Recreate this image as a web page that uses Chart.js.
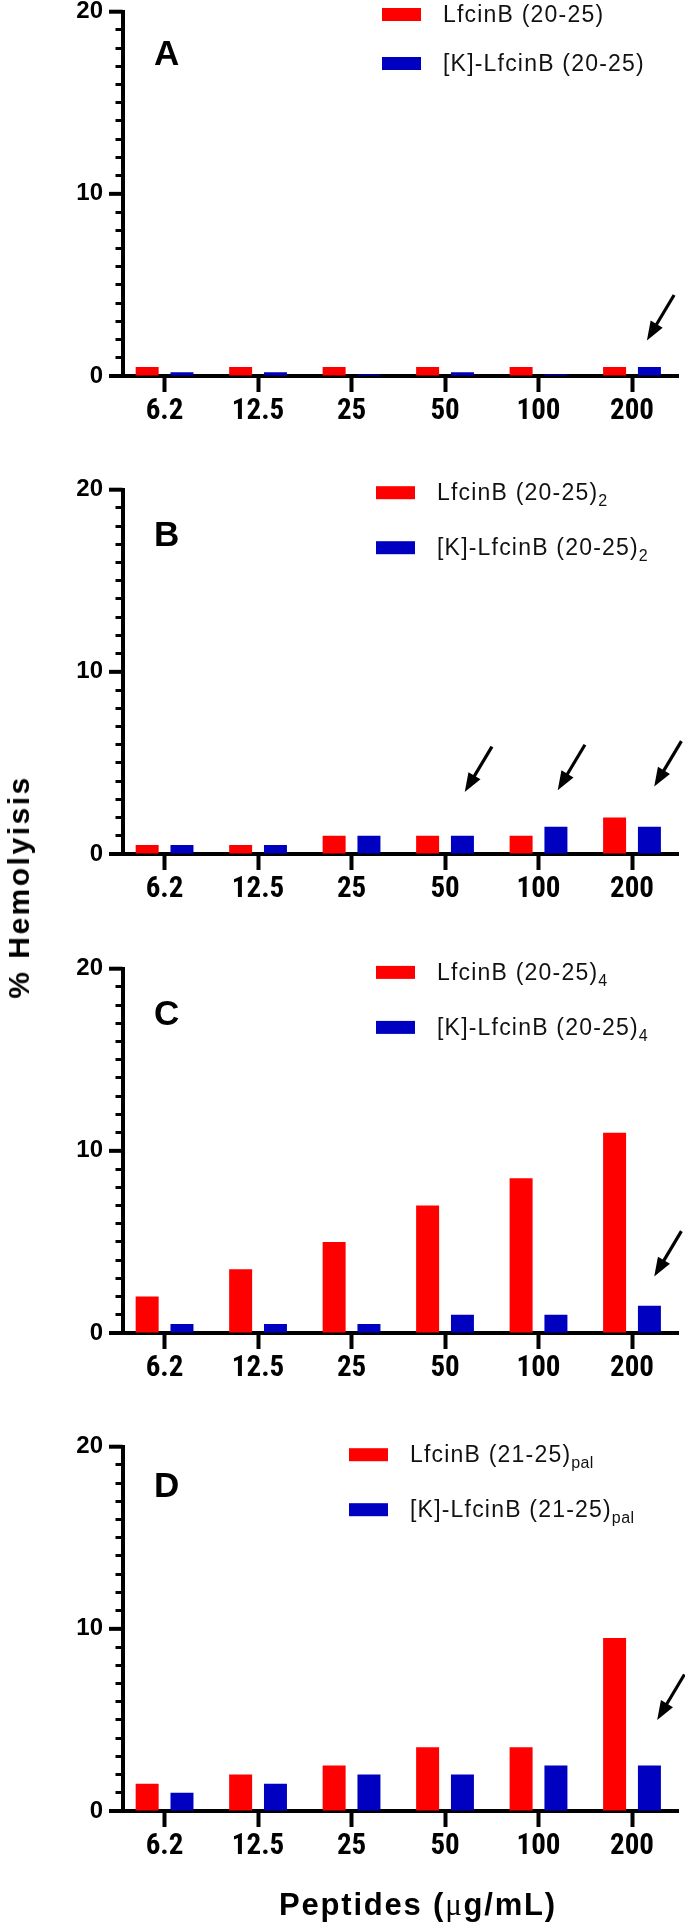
<!DOCTYPE html>
<html>
<head>
<meta charset="utf-8">
<script src="https://cdn.jsdelivr.net/npm/chart.js@4.4.1/dist/chart.umd.min.js"></script>
<style>
  html,body{margin:0;padding:0;background:#fff;}
  #fig{position:relative;width:685px;height:1929px;overflow:hidden;font-family:'Liberation Sans',Arial,sans-serif;color:#000;}
  #fig canvas{position:absolute;left:0;}
  .ytitle{position:absolute;left:19px;top:887px;transform:translate(-50%,-50%) rotate(-90deg);font-weight:bold;font-size:30px;letter-spacing:2.5px;white-space:nowrap;}
  .xtitle{position:absolute;left:418px;top:1905px;transform:translate(-50%,-50%);font-weight:bold;font-size:31px;letter-spacing:1.8px;white-space:nowrap;}
  .mu{font-family:'Liberation Serif',serif;font-weight:normal;}
</style>
</head>
<body>
<div id="fig">
  <canvas id="cA" width="685" height="478" style="top:0px"></canvas>
  <canvas id="cB" width="685" height="478" style="top:478px"></canvas>
  <canvas id="cC" width="685" height="478" style="top:957px"></canvas>
  <canvas id="cD" width="685" height="478" style="top:1435px"></canvas>
  <div class="ytitle">% Hemolyisis</div>
  <div class="xtitle">Peptides (<span class="mu">μ</span>g/mL)</div>
</div>
<script>
// doses on the x axis (µg/mL)
const doses = ['6.2', '12.5', '25', '50', '100', '200'];
const yLabelled = [0, 10, 20];
const yMax = 20;

// % hemolysis, red = LfcinB peptide, blue = [K]-LfcinB peptide
const aRed  = [0.5, 0.5, 0.5, 0.5, 0.5, 0.5];
const aBlue = [0.2, 0.2, 0.1, 0.2, 0.1, 0.5];
const bRed  = [0.5, 0.5, 1, 1, 1, 2];
const bBlue = [0.5, 0.5, 1, 1, 1.5, 1.5];
const cRed  = [2, 3.5, 5, 7, 8.5, 11];
const cBlue = [0.5, 0.5, 0.5, 1, 1, 1.5];
const dRed  = [1.5, 2, 2.5, 3.5, 3.5, 9.5];
const dBlue = [1, 1.5, 2, 2, 2.5, 2.5];

const names2025 = ['LfcinB (20-25)', '[K]-LfcinB (20-25)'];
const names2125 = ['LfcinB (21-25)', '[K]-LfcinB (21-25)'];

const RED = '#ff0000', BLUE = '#0000c0';
const SANS = "'Liberation Sans', Arial, sans-serif";
const NARROW = "'Roboto Condensed', 'Liberation Sans Narrow', 'Arial Narrow', sans-serif";

const panels = [
  { id:'cA', letter:'A', red:aRed, blue:aBlue, names:names2025, sub:'',
    legX:382, legY:2.8, legGap:49, letterDy:44, arrows:[{i:5, at:1.95, dx:-2.5}] },
  { id:'cB', letter:'B', red:bRed, blue:bBlue, names:names2025, sub:'2',
    legX:376, legY:3, legGap:55, letterDy:47, arrows:[{i:3, at:3.4, dx:2.3}, {i:4, at:3.5, dx:1.8}, {i:5, at:3.7, dx:4.8}] },
  { id:'cC', letter:'C', red:cRed, blue:cBlue, names:names2025, sub:'4',
    legX:376, legY:3.7, legGap:55, letterDy:47, arrows:[{i:5, at:3.1, dx:4.8}] },
  { id:'cD', letter:'D', red:dRed, blue:dBlue, names:names2125, sub:'pal',
    legX:349, legY:8, legGap:55, letterDy:41, arrows:[{i:5, at:5.0, dx:7.8}] },
];

// extra drawing: long major ticks, panel letter, legend with subscripts, arrows
const decor = {
  id: 'decor',
  afterDraw(chart, args, o) {
    const ctx = chart.ctx, ca = chart.chartArea, ys = chart.scales.y, xs = chart.scales.x;
    ctx.save();
    ctx.strokeStyle = '#000';
    ctx.lineWidth = 4;
    yLabelled.forEach(v => {
      const py = ys.getPixelForValue(v);
      ctx.beginPath(); ctx.moveTo(ca.left - 13.5, py); ctx.lineTo(ca.left, py); ctx.stroke();
    });

    ctx.fillStyle = '#000';
    ctx.font = 'bold 35px ' + SANS;
    ctx.textAlign = 'center'; ctx.textBaseline = 'middle';
    ctx.fillText(o.letter, xs.getPixelForValue(0) + 2, ca.top + o.letterDy);

    chart.data.datasets.forEach((ds, k) => {
      const ry = ca.top + o.legY + k * o.legGap;
      ctx.fillStyle = ds.backgroundColor;
      ctx.fillRect(o.legX, ry - 6.5, 39, 13);
      ctx.fillStyle = '#111';
      ctx.textAlign = 'left'; ctx.textBaseline = 'middle';
      ctx.font = '23px ' + SANS;
      if ('letterSpacing' in ctx) ctx.letterSpacing = '1.2px';
      const tx = o.legX + 61;
      ctx.fillText(ds.label, tx, ry + 1);
      if (o.sub) {
        const w = ctx.measureText(ds.label).width;
        ctx.font = '16px ' + SANS;
        if ('letterSpacing' in ctx) ctx.letterSpacing = '0.4px';
        ctx.fillText(o.sub, tx + w, ry + 9);
      }
      if ('letterSpacing' in ctx) ctx.letterSpacing = '0px';
    });

    const blueBars = chart.getDatasetMeta(1).data;
    o.arrows.forEach(a => {
      const tipX = blueBars[a.i].x + a.dx, tipY = ys.getPixelForValue(a.at);
      const ux = 0.513, uy = -0.858, len = 53, head = 19, half = 7;
      ctx.strokeStyle = '#000'; ctx.lineWidth = 3.2;
      ctx.beginPath();
      ctx.moveTo(tipX + ux * len, tipY + uy * len);
      ctx.lineTo(tipX + ux * (head - 3), tipY + uy * (head - 3));
      ctx.stroke();
      const bx = tipX + ux * head, by = tipY + uy * head;
      ctx.fillStyle = '#000';
      ctx.beginPath();
      ctx.moveTo(tipX, tipY);
      ctx.lineTo(bx - uy * half, by + ux * half);
      ctx.lineTo(bx + uy * half, by - ux * half);
      ctx.closePath(); ctx.fill();
    });
    ctx.restore();
  }
};

panels.forEach(p => {
  new Chart(document.getElementById(p.id), {
    type: 'bar',
    data: {
      datasets: [
        { label: p.names[0], data: p.red.map((v, i) => ({x: i, y: v})), backgroundColor: RED },
        { label: p.names[1], data: p.blue.map((v, i) => ({x: i, y: v})), backgroundColor: BLUE },
      ]
    },
    options: {
      responsive: false,
      animation: false,
      events: [],
      layout: { padding: { top: 11.7, right: 6.25, bottom: 42, left: 0 } },
      datasets: { bar: { categoryPercentage: 0.745, barPercentage: 0.66, borderWidth: 0 } },
      plugins: { legend: { display: false }, tooltip: { enabled: false }, decor: p },
      scales: {
        x: {
          type: 'linear', min: -0.45, max: 5.5, bounds: 'data', offset: false,
          afterBuildTicks: s => { s.ticks = doses.map((d, i) => ({ value: i })); },
          afterFit: s => { s.height = 60; s.paddingLeft = 0; s.paddingRight = 0; },
          ticks: { callback: v => doses[v], autoSkip: false, maxRotation: 0, padding: 2, color: '#000',
                   font: { family: NARROW, weight: 'bold', size: 29 } },
          grid: { offset: false, drawOnChartArea: false, tickLength: 16, tickWidth: 4, tickColor: '#000' },
          border: { color: '#000', width: 4 }
        },
        y: {
          min: 0, max: yMax,
          afterBuildTicks: s => { s.ticks = []; for (let v = 0; v <= yMax; v++) s.ticks.push({ value: v }); },
          afterFit: s => { s.width = 122.5; s.paddingTop = 0; s.paddingBottom = 0; },
          ticks: { callback: v => yLabelled.includes(v) ? String(v) : '', autoSkip: false, padding: 12.5, color: '#000',
                   font: { family: SANS, weight: 'bold', size: 24 } },
          grid: { drawOnChartArea: false, tickLength: 7, tickWidth: 3, tickColor: '#000' },
          border: { color: '#000', width: 4 }
        }
      }
    },
    plugins: [decor]
  });
});
</script>
</body>
</html>
